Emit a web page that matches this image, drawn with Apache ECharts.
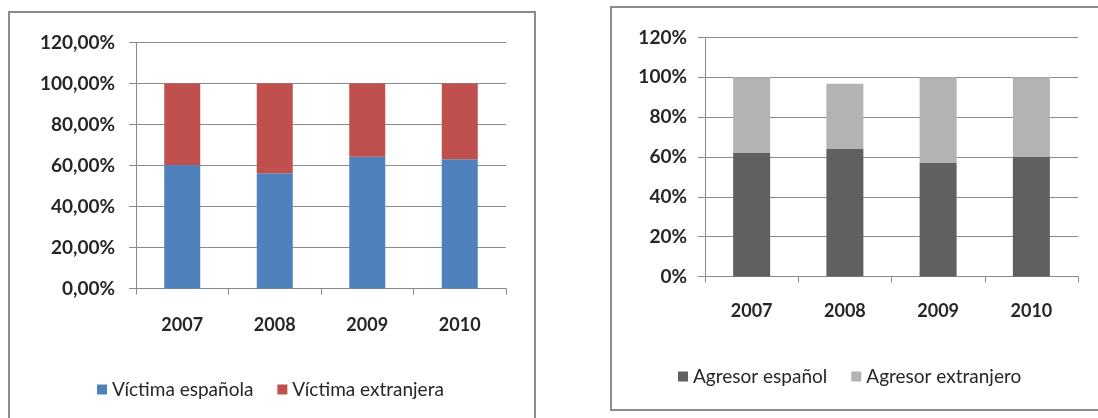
<!DOCTYPE html>
<html>
<head>
<meta charset="utf-8">
<script src="https://cdn.jsdelivr.net/npm/echarts@6/dist/echarts.min.js"></script>
<style>
html,body{margin:0;padding:0;background:#fff;}
#c{width:1098px;height:418px;}
</style>
</head>
<body>
<div id="c"></div>
<script>
var years = ['2007', '2008', '2009', '2010'];
var victimaEspanola = [60.3, 56.2, 64.3, 63.0];
var victimaExtranjera = [39.7, 43.8, 35.7, 37.0];
var agresorEspanol = [62.3, 64.0, 57.3, 60.3];
var agresorExtranjero = [37.7, 32.8, 42.7, 39.7];
var leftTicks = { min: 0, max: 120, interval: 20 };
var rightTicks = { min: 0, max: 120, interval: 20 };

var FONT = 'Lato';
var GRID_C = '#8a8a8a';
var TXT = '#262626';

function yAxis(idx, fmt, margin, ticks) {
  return {
    type: 'value', gridIndex: idx, min: ticks.min, max: ticks.max, interval: ticks.interval,
    axisLine: { show: true, lineStyle: { color: GRID_C, width: 1 } },
    axisTick: { show: true, length: 7, inside: false, lineStyle: { color: GRID_C } },
    splitLine: { show: true, lineStyle: { color: GRID_C, width: 1 } },
    axisLabel: { formatter: fmt, margin: margin, color: TXT, fontFamily: FONT, fontWeight: 'bold', fontSize: 19 }
  };
}
function xAxis(idx, margin) {
  return {
    type: 'category', gridIndex: idx, data: years,
    axisLine: { show: true, lineStyle: { color: GRID_C, width: 1 } },
    axisTick: { show: true, length: 6, alignWithLabel: false, lineStyle: { color: GRID_C } },
    axisLabel: { margin: margin, color: TXT, fontFamily: FONT, fontWeight: 'bold', fontSize: 18 }
  };
}

var chart = echarts.init(document.getElementById('c'), null, { renderer: 'canvas' });
chart.setOption({
  animation: false,
  backgroundColor: '#fff',
  graphic: [
    { type: 'rect', shape: { x: 9, y: 12, width: 526, height: 420 }, style: { fill: 'none', stroke: '#8c8c8c', lineWidth: 2 }, z: -1 },
    { type: 'rect', shape: { x: 611, y: 7, width: 500, height: 403 }, style: { fill: 'none', stroke: '#8c8c8c', lineWidth: 2 }, z: -1 }
  ],
  grid: [
    { left: 136, top: 42.5, width: 370, height: 246 },
    { left: 705, top: 37.5, width: 373, height: 239 }
  ],
  xAxis: [xAxis(0, 28), xAxis(1, 26)],
  yAxis: [
    yAxis(0, function (v) { return v.toFixed(2).replace('.', ',') + '%'; }, 21, leftTicks),
    yAxis(1, function (v) { return v + '%'; }, 18, rightTicks)
  ],
  legend: [
    { data: ['Víctima española', 'Víctima extranjera'], left: 92, top: 375, icon: 'rect', itemWidth: 10, itemHeight: 10, itemGap: 24,
      textStyle: { fontFamily: FONT, fontSize: 19, color: TXT } },
    { data: ['Agresor español', 'Agresor extranjero'], left: 673, top: 362, icon: 'rect', itemWidth: 10, itemHeight: 10, itemGap: 24,
      textStyle: { fontFamily: FONT, fontSize: 19, color: TXT } }
  ],
  series: [
    { name: 'Víctima española', type: 'bar', stack: 'v', xAxisIndex: 0, yAxisIndex: 0, barWidth: 36, data: victimaEspanola, itemStyle: { color: '#4F81BD' } },
    { name: 'Víctima extranjera', type: 'bar', stack: 'v', xAxisIndex: 0, yAxisIndex: 0, barWidth: 36, data: victimaExtranjera, itemStyle: { color: '#C0504D' } },
    { name: 'Agresor español', type: 'bar', stack: 'a', xAxisIndex: 1, yAxisIndex: 1, barWidth: 37, data: agresorEspanol, itemStyle: { color: '#606060' } },
    { name: 'Agresor extranjero', type: 'bar', stack: 'a', xAxisIndex: 1, yAxisIndex: 1, barWidth: 37, data: agresorExtranjero, itemStyle: { color: '#b3b3b3' } }
  ]
});
</script>
</body>
</html>
